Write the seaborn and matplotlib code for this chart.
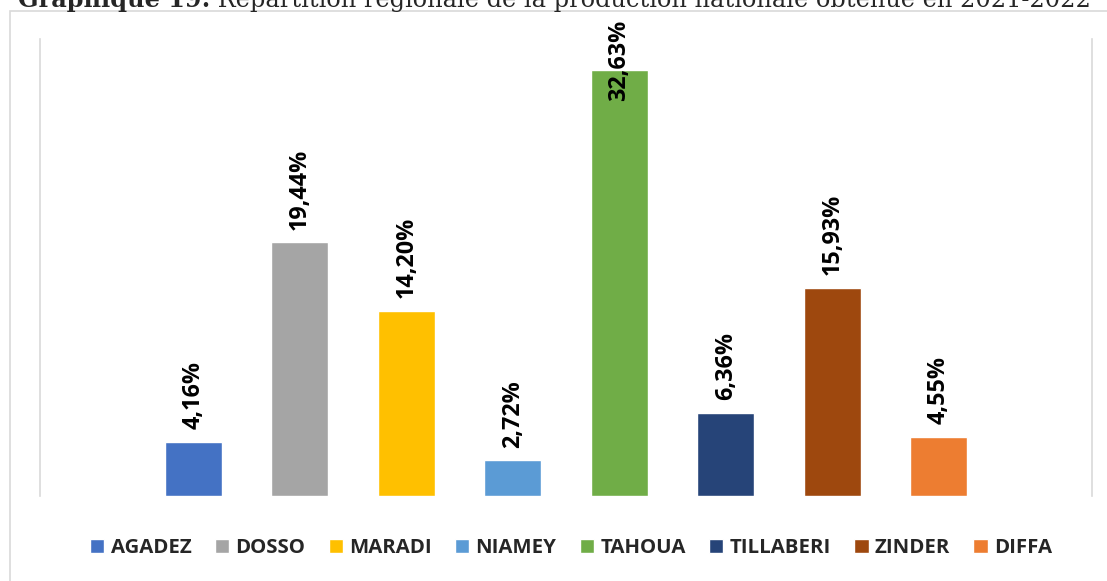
"""Graphique 19: regional share of national production, 2021-2022."""

import matplotlib.pyplot as plt
import pandas as pd
import seaborn as sns
from matplotlib.patches import Rectangle

REGIONS = ["AGADEZ", "DOSSO", "MARADI", "NIAMEY", "TAHOUA", "TILLABERI", "ZINDER", "DIFFA"]
SHARES = [4.16, 19.44, 14.20, 2.72, 32.63, 6.36, 15.93, 4.55]
COLORS = ["#4472C4", "#A5A5A5", "#FFC000", "#5B9BD5", "#70AD47", "#264478", "#9E480E", "#ED7D31"]

TITLE_BOLD = "Graphique 19:"
TITLE_REST = " Répartition régionale de la production nationale obtenue en 2021-2022"

W, H, DPI = 1107, 581, 100


def pct_label(value: float) -> str:
    return f"{value:.2f}".replace(".", ",") + "%"


def main() -> None:
    sns.set_theme(style="white")
    plt.rcParams["font.family"] = ["Open Sans", "DejaVu Sans"]

    df = pd.DataFrame({"cat": [""] * len(REGIONS), "region": REGIONS, "share": SHARES})

    fig = plt.figure(figsize=(W / DPI, H / DPI), dpi=DPI)
    ax = fig.add_axes([40 / W, 1 - 496 / H, 1052 / W, 457 / H])

    sns.barplot(
        data=df,
        x="cat",
        y="share",
        hue="region",
        hue_order=REGIONS,
        palette=COLORS,
        width=0.81,
        gap=0.466,
        saturation=1,
        ax=ax,
    )
    ax.set_ylim(0, 35)
    ax.set_xlim(-0.5, 0.5)
    ax.set_xlabel("")
    ax.set_ylabel("")
    ax.set_xticks([])
    ax.set_yticks([])
    for side in ("top", "bottom"):
        ax.spines[side].set_visible(False)
    for side in ("left", "right"):
        ax.spines[side].set_color("#D9D9D9")
        ax.spines[side].set_linewidth(1.2)

    # data labels above each bar
    labels = []
    for container, value in zip(ax.containers, SHARES):
        bar = container.patches[0]
        cx = bar.get_x() + bar.get_width() / 2
        t = ax.annotate(
            pct_label(value),
            xy=(cx, bar.get_height()),
            xytext=(0, 9),
            textcoords="offset points",
            rotation=90,
            ha="center",
            va="bottom",
            fontsize=16.8,
            fontweight="bold",
            color="black",
            annotation_clip=False,
        )
        labels.append(t)

    # legend at the bottom
    sns.move_legend(
        ax,
        loc="center",
        bbox_to_anchor=(571 / W, 1 - 548 / H),
        bbox_transform=fig.transFigure,
        ncol=len(REGIONS),
        frameon=False,
        title=None,
        prop={"weight": "bold", "size": 14.7},
        handlelength=0.7,
        handleheight=0.7,
        handletextpad=0.3,
        columnspacing=1.15,
    )

    # chart border (partly off the page, like the source)
    fig.patches.append(
        Rectangle(
            (10 / W, -0.1), 1.2, 1.1 - 11 / H,
            transform=fig.transFigure, fill=False, edgecolor="#D9D9D9", linewidth=1.2,
        )
    )

    # title: bold prefix + regular text, top cut off as in the source
    t1 = fig.text(18 / W, 1 - 12 / H, TITLE_BOLD, family="DejaVu Serif",
                  fontweight="bold", fontsize=16, va="bottom", ha="left")
    t2 = fig.text(0, 0, TITLE_REST, family="DejaVu Serif", fontsize=16, va="bottom", ha="left")

    fig.canvas.draw()
    renderer = fig.canvas.get_renderer()
    total = t1.get_window_extent(renderer).width + t2.get_window_extent(renderer).width
    size = 16 * (1087 - 18) / total
    t1.set_fontsize(size)
    t2.set_fontsize(size)
    fig.canvas.draw()
    bb1 = t1.get_window_extent(renderer)
    t2.set_position((bb1.x1 / W, 1 - 12 / H))

    # keep labels inside the chart area (Excel clamps them)
    limit_px = H - 20
    for t in labels:
        bb = t.get_window_extent(renderer)
        if bb.y1 > limit_px:
            shift_pt = (bb.y1 - limit_px) * 72 / DPI
            x_off, y_off = t.xyann
            t.xyann = (x_off, y_off - shift_pt)

    fig.savefig("out.png", dpi=DPI)


if __name__ == "__main__":
    main()
